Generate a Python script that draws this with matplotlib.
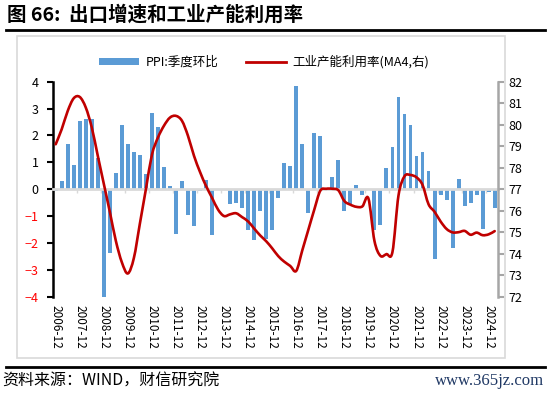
import numpy as np
import matplotlib.pyplot as plt
from matplotlib.patches import Rectangle, Patch, PathPatch
from matplotlib.path import Path
from matplotlib.lines import Line2D

plt.rcParams['font.family'] = ['Noto Sans CJK SC', 'DejaVu Sans']

# quarterly, 2006-12 .. 2025-03
years = list(range(2006, 2025))
tick_labels = [f"{y}-12" for y in years]

ppi_qoq = [
    -0.08, 0.29, 1.70, 0.89, 2.52, 2.60, 2.60, 1.15, -4.08, -2.39,
    0.60, 2.39, 1.70, 1.39, 1.28, 0.58, 2.82, 2.33, 0.84, 0.13,
    -1.67, 0.32, -0.95, -1.37, -0.08, 0.33, -1.72, 0.0, 0.0, -0.56,
    -0.53, -0.71, -1.53, -1.88, -0.80, -1.86, -1.52, -0.31, 0.97, 0.87,
    3.83, 1.67, -0.90, 2.08, 1.98, 0.0, 0.47, 1.08, -0.81, -0.54,
    0.17, -0.21, 0.0, -1.51, -1.33, 0.78, 1.57, 3.44, 2.79, 2.39,
    1.24, 1.38, 0.68, -2.60, -0.21, -0.41, -2.20, 0.37, -0.61, -0.51,
    -0.21, -1.49, -0.11, -0.71,
]

capacity_ma4 = [
    79.09, 79.79, 80.64, 81.23, 81.29, 80.80, 79.87, 78.55, 77.25, 75.95,
    74.60, 73.60, 73.08, 73.80, 75.40, 77.00, 78.60, 79.40, 79.95, 80.33,
    80.41, 80.18, 79.48, 78.55, 77.80, 77.15, 76.60, 76.05, 75.75, 75.83,
    75.88, 75.70, 75.50, 75.17, 74.85, 74.58, 74.25, 73.89, 73.63, 73.43,
    73.20, 74.15, 75.10, 76.05, 76.93, 77.02, 77.02, 76.95, 76.45, 76.28,
    76.18, 76.20, 76.57, 74.60, 73.90, 73.98, 74.08, 76.70, 77.60, 77.66,
    77.55, 77.20, 76.30, 75.95, 75.50, 75.15, 74.99, 75.00, 75.06, 74.88,
    74.98, 74.86, 74.90, 75.05,
]

blue = '#5B9BD5'
red = '#C00000'


def smooth_path(xs, ys):
    # excel-style smoothed line: catmull-rom segments as cubic beziers
    pts = np.column_stack([xs, ys]).astype(float)
    ext = np.vstack([pts[0], pts, pts[-1]])
    verts = [pts[0]]
    codes = [Path.MOVETO]
    for i in range(len(pts) - 1):
        p0, p1, p2, p3 = ext[i], ext[i + 1], ext[i + 2], ext[i + 3]
        verts += [p1 + (p2 - p0) / 6, p2 - (p3 - p1) / 6, p2]
        codes += [Path.CURVE4] * 3
    return Path(verts, codes)


fig = plt.figure(figsize=(5.5, 3.96), dpi=100)

# title and frame lines
fig.text(0.012, 0.962, '图 66:  出口增速和工业产能利用率', fontsize=14,
         fontweight='bold', va='center', ha='left')
fig.add_artist(Line2D([0.01, 0.99], [0.925, 0.925], color='black', lw=2))
fig.add_artist(Line2D([0.01, 0.99], [0.074, 0.074], color='black', lw=2))
fig.add_artist(Rectangle((0.031, 0.096), 0.887, 0.813, fill=False,
                         edgecolor='#D9D9D9', lw=1.2))
fig.text(0.004, 0.038, '资料来源：WIND，财信研究院', fontsize=11.5,
         style='italic', va='center', ha='left')
fig.text(0.99, 0.038, 'www.365jz.com', fontsize=12, color='#1F3864',
         family='Liberation Serif', va='center', ha='right')

ax = fig.add_axes([0.0958, 0.2508, 0.8091, 0.5429])
x = np.arange(len(ppi_qoq))
ax.bar(x, ppi_qoq, width=0.65, color=blue, zorder=2)
ax.set_xlim(-0.5, len(ppi_qoq) - 0.5)
ax.set_ylim(-4, 4)
ax.set_yticks(range(-4, 5))
ax.tick_params(axis='y', length=4, width=1.5, color='black',
               labelsize=9, pad=6)
for lab, v in zip(ax.get_yticklabels(), range(-4, 5)):
    lab.set_color('red' if v < 0 else 'black')

for s in ['top', 'right']:
    ax.spines[s].set_visible(False)
ax.spines['left'].set_linewidth(1.8)
ax.spines['bottom'].set_position(('data', 0))
ax.spines['bottom'].set_color('#D9D9D9')
ax.spines['bottom'].set_linewidth(2)
ax.spines['bottom'].set_zorder(3)
ax.set_xticks(np.arange(3.5, len(ppi_qoq), 4))
ax.tick_params(axis='x', length=3, width=1, color='#D9D9D9',
               labelbottom=False)

sec = ax.secondary_xaxis(0)
sec.set_xticks(np.arange(0, 4 * len(tick_labels), 4), tick_labels,
               rotation=-90, fontsize=8.5)
sec.tick_params(length=0, pad=6)
sec.spines['bottom'].set_visible(False)

ax2 = ax.twinx()
ax2.add_patch(PathPatch(smooth_path(x, capacity_ma4), facecolor='none',
                        edgecolor=red, lw=1.9, zorder=4,
                        capstyle='round', joinstyle='round'))
ax2.set_ylim(72, 82)
ax2.set_yticks(range(72, 83))
ax2.tick_params(axis='y', length=4, width=1.5, color='#A6A6A6',
                labelsize=9, pad=4)
for s in ['top', 'left', 'bottom']:
    ax2.spines[s].set_visible(False)
ax2.spines['right'].set_color('#A6A6A6')
ax2.spines['right'].set_linewidth(1.8)

handles = [Patch(facecolor=blue, edgecolor='none'),
           Line2D([], [], color=red, lw=2)]
fig.legend(handles, ['PPI:季度环比', '工业产能利用率(MA4,右)'],
           loc='center', bbox_to_anchor=(0.48, 0.843), ncol=2,
           frameon=False, fontsize=9, handlelength=3.2, handleheight=0.55,
           columnspacing=2.2, handletextpad=0.5)

fig.savefig('out.png', dpi=100)
